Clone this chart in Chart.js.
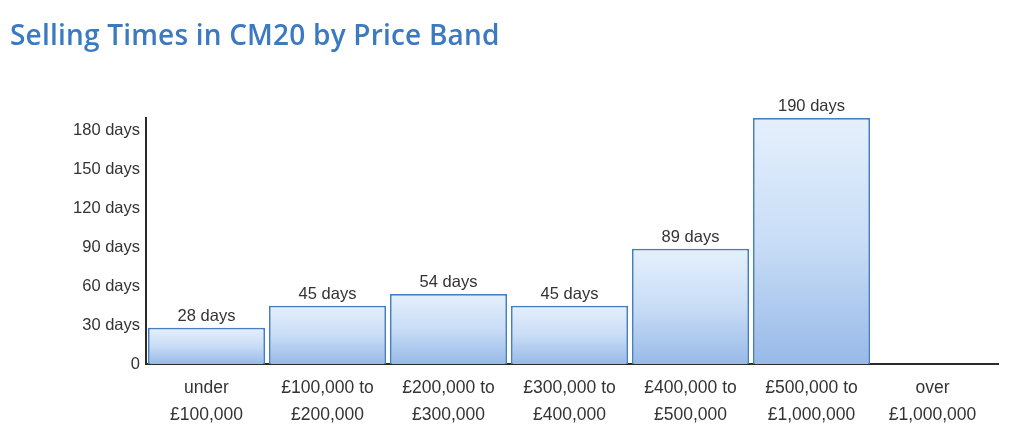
<!DOCTYPE html>
<html>
<head>
<meta charset="utf-8">
<script src="https://cdn.jsdelivr.net/npm/chart.js@4"></script>
<style>
  html, body { margin: 0; padding: 0; background: #fff; }
  #wrap { position: relative; width: 1024px; height: 444px; }
  #title { position: absolute; left: 10px; top: 15px; font-family: "Open Sans", sans-serif; font-weight: 600; font-size: 28px; color: #3b79c1; white-space: nowrap; letter-spacing: 0.2px; }
  canvas { position: absolute; left: 0; top: 0; }
</style>
</head>
<body>
<div id="wrap">
  <canvas id="c" width="1024" height="444"></canvas>
  <div id="title">Selling Times in CM20 by Price Band</div>
</div>
<script>
const categories = [
  ["under", "£100,000"],
  ["£100,000 to", "£200,000"],
  ["£200,000 to", "£300,000"],
  ["£300,000 to", "£400,000"],
  ["£400,000 to", "£500,000"],
  ["£500,000 to", "£1,000,000"],
  ["over", "£1,000,000"]
];
const sellingDays = [28, 45, 54, 45, 89, 190, null];
const yTickValues = [0, 30, 60, 90, 120, 150, 180];

const dataLabels = {
  id: 'dataLabels',
  afterDatasetsDraw(chart) {
    const ctx = chart.ctx;
    const meta = chart.getDatasetMeta(0);
    ctx.save();
    ctx.font = '16.5px "Liberation Sans", Arial, sans-serif';
    ctx.fillStyle = '#333';
    ctx.textAlign = 'center';
    ctx.textBaseline = 'bottom';
    meta.data.forEach((bar, i) => {
      const v = sellingDays[i];
      if (v === null || v === undefined) return;
      ctx.fillText(v + ' days', bar.x, bar.y - 3);
    });
    ctx.restore();
  }
};

const axisExtend = {
  id: 'axisExtend',
  afterDraw(chart) {
    const { ctx, chartArea } = chart;
    ctx.save();
    ctx.strokeStyle = '#2b2b2b';
    ctx.lineWidth = 2;
    ctx.beginPath();
    ctx.moveTo(chartArea.right - 1, chartArea.bottom);
    ctx.lineTo(chartArea.right + 6, chartArea.bottom);
    ctx.stroke();
    ctx.restore();
  }
};

new Chart(document.getElementById('c'), {
  type: 'bar',
  data: {
    labels: categories,
    datasets: [{
      data: sellingDays,
      backgroundColor(context) {
        const chart = context.chart;
        if (!chart.chartArea || context.type !== 'data' || context.raw == null) return '#c9dcf4';
        const ys = chart.scales.y;
        const top = ys.getPixelForValue(context.raw);
        const bottom = ys.getPixelForValue(0);
        const g = chart.ctx.createLinearGradient(0, top, 0, bottom);
        g.addColorStop(0, '#e5f0fc');
        g.addColorStop(0.5, '#c9ddf6');
        g.addColorStop(1, '#98bae8');
        return g;
      },
      borderColor: '#457fc2',
      borderWidth: 1.7,
      borderSkipped: 'bottom',
      barPercentage: 0.967,
      categoryPercentage: 1.0
    }]
  },
  options: {
    responsive: false,
    animation: false,
    devicePixelRatio: 1,
    layout: { padding: { left: 0, top: 118, right: 31, bottom: 0 } },
    plugins: { legend: { display: false }, tooltip: { enabled: false }, title: { display: false } },
    scales: {
      x: {
        grid: { display: false, drawTicks: false },
        border: { display: true, color: '#2b2b2b', width: 2 },
        ticks: {
          color: '#333',
          font: { family: '"Liberation Sans", Arial, sans-serif', size: 17.5, lineHeight: 1.52 },
          padding: 11,
          maxRotation: 0,
          autoSkip: false
        },
        afterFit(scale) { scale.height = 80; }
      },
      y: {
        min: 0,
        max: 190,
        grid: { display: false, drawTicks: false },
        border: { display: true, color: '#2b2b2b', width: 2 },
        afterBuildTicks(scale) { scale.ticks = yTickValues.map(v => ({ value: v })); },
        afterFit(scale) { scale.width = 146; },
        ticks: {
          color: '#333',
          font: { family: '"Liberation Sans", Arial, sans-serif', size: 16.5 },
          padding: 6,
          callback(v) { return v === 0 ? '0' : v + ' days'; }
        }
      }
    }
  },
  plugins: [dataLabels, axisExtend]
});
</script>
</body>
</html>
